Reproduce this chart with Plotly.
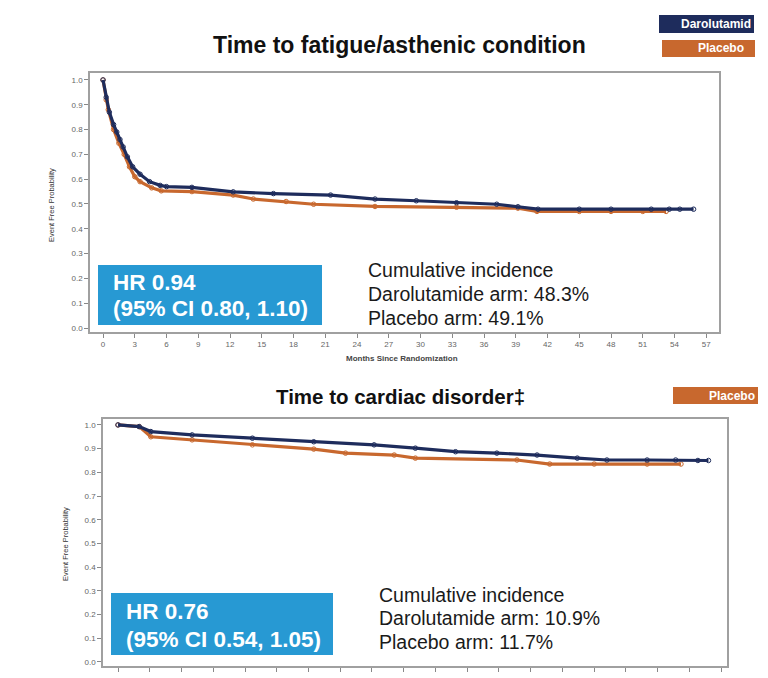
import plotly.graph_objects as go

W, H = 768, 678

# ---------------- data ----------------
fat_months_daro = [0, 0.3, 0.6, 1.0, 1.3, 1.6, 1.9, 2.3, 2.8, 3.5, 4.4, 5.4, 6.0, 8.4, 12.3, 16.1, 21.5,
                   25.7, 29.6, 33.4, 37.2, 39.2, 41.1, 45, 48, 51.8, 53.5, 54.5, 55.8]
fat_surv_daro = [1.0, 0.93, 0.87, 0.82, 0.79, 0.76, 0.73, 0.69, 0.65, 0.62, 0.59, 0.575, 0.57, 0.567, 0.549,
                 0.542, 0.536, 0.52, 0.513, 0.505, 0.499, 0.489, 0.479, 0.479, 0.479, 0.479, 0.479, 0.479, 0.479]
fat_months_plac = [0, 0.3, 0.5, 1.0, 1.5, 2.0, 2.5, 3.0, 3.5, 4.6, 5.5, 8.4, 12.3, 14.2, 17.3, 19.9, 25.7,
                   33.4, 39.2, 41.0, 45, 48, 51, 53.2]
fat_surv_plac = [1.0, 0.92, 0.88, 0.80, 0.745, 0.70, 0.65, 0.61, 0.59, 0.565, 0.553, 0.55, 0.536, 0.52,
                 0.51, 0.499, 0.49, 0.487, 0.483, 0.47, 0.47, 0.47, 0.47, 0.47]

car_months_daro = [0, 2.0, 3.1, 7, 12.7, 18.5, 24.2, 28.1, 31.9, 35.8, 39.6, 43.4, 46.2, 50, 52.7, 54.8, 55.8]
car_surv_daro = [1.0, 0.993, 0.972, 0.958, 0.944, 0.929, 0.916, 0.902, 0.887, 0.881, 0.873, 0.86, 0.852,
                 0.852, 0.852, 0.85, 0.85]
car_months_plac = [0, 2.0, 3.1, 7, 12.7, 18.5, 21.5, 26.1, 28.1, 37.7, 40.8, 45, 50, 53.2]
car_surv_plac = [1.0, 0.993, 0.95, 0.937, 0.916, 0.898, 0.881, 0.873, 0.86, 0.852, 0.835, 0.835, 0.835, 0.835]

x_ticks = list(range(0, 58, 3))
y_ticks = [i / 10 for i in range(11)]

titles = ["Time to fatigue/asthenic condition", "Time to cardiac disorder\u2021"]
hr_lines = [["HR 0.94", "(95% CI 0.80, 1.10)"], ["HR 0.76", "(95% CI 0.54, 1.05)"]]
ci_lines = [["Cumulative incidence", "Darolutamide arm: 48.3%", "Placebo arm: 49.1%"],
            ["Cumulative incidence", "Darolutamide arm: 10.9%", "Placebo arm: 11.7%"]]

NAVY = "#1e2c5c"
ORANGE = "#c8682e"
BOX_BLUE = "#2799d3"


def px(x):
    return x / W


def py(y):
    return 1 - y / H


fig = go.Figure()


def add_curve(xs, ys, color, xa, ya):
    fig.add_trace(go.Scatter(
        x=xs, y=ys, mode="lines+markers", xaxis=xa, yaxis=ya,
        line=dict(color=color, width=3.2),
        marker=dict(symbol="circle-open", size=4.5, color=color, line=dict(width=1)),
        showlegend=False, hoverinfo="skip"))


add_curve(fat_months_plac, fat_surv_plac, ORANGE, "x", "y")
add_curve(fat_months_daro, fat_surv_daro, NAVY, "x", "y")
add_curve(car_months_plac, car_surv_plac, ORANGE, "x2", "y2")
add_curve(car_months_daro, car_surv_daro, NAVY, "x2", "y2")

axis_common = dict(showgrid=False, zeroline=False, showline=True, linecolor="#a0a0a0", linewidth=1.5,
                   mirror=True, ticks="outside", ticklen=4, tickcolor="#888",
                   tickfont=dict(family="Liberation Sans, Arial", size=8, color="#666"))

fig.update_layout(
    width=W, height=H, margin=dict(l=0, r=0, t=0, b=0),
    paper_bgcolor="white", plot_bgcolor="white",
    xaxis=dict(domain=[px(90), px(719)], range=[-1.23, 58.2], tickvals=x_ticks, anchor="y", **axis_common),
    yaxis=dict(domain=[py(332), py(73)], range=[-0.016, 1.028], tickvals=y_ticks, tickformat=".1f",
               anchor="x", **axis_common),
    xaxis2=dict(domain=[px(103), px(727)], range=[-1.42, 57.55], tickvals=x_ticks, showticklabels=False,
                anchor="y2", **axis_common),
    yaxis2=dict(domain=[py(666), py(419)], range=[-0.017, 1.025], tickvals=y_ticks, tickformat=".1f",
                anchor="x2", **axis_common),
)

shapes = []
ann = []
FONT = "Liberation Sans, Arial"


def text(x, y, t, size, color, xanchor="center", angle=0):
    ann.append(dict(x=px(x), y=py(y), text=t, showarrow=False, xref="paper", yref="paper",
                    xanchor=xanchor, yanchor="middle", textangle=angle,
                    font=dict(family=FONT, size=size, color=color)))


# titles
text(399, 45, "<b>%s</b>" % titles[0], 23, "#111")
text(400, 396, "<b>%s</b>" % titles[1], 20.5, "#111")

# HR boxes
for (x0, x1, y0, y1, tx, ty1, ty2), lines in zip(
        [(98, 322, 265, 325, 111, 282, 308), (111, 333, 593, 655, 124, 611, 639)], hr_lines):
    shapes.append(dict(type="rect", xref="paper", yref="paper", x0=px(x0), x1=px(x1), y0=py(y1), y1=py(y0),
                       fillcolor=BOX_BLUE, line=dict(width=0), layer="above"))
    text(tx, ty1, "<b>%s</b>" % lines[0], 22.5, "white", "left")
    text(tx, ty2, "<b>%s</b>" % lines[1], 22.5, "white", "left")

# cumulative incidence text
for (tx, ys), lines in zip([(366, [270, 294, 318]), (377, [595, 618, 642])], ci_lines):
    for yy, t in zip(ys, lines):
        text(tx, yy, t, 19.5, "#1a1a1a", "left")

# y axis titles
for xx, yy in [(51, 205), (65, 544)]:
    text(xx, yy, "Event Free Probability", 7.5, "#333", angle=-90)

# x axis title (partially hidden in reference)
text(402, 358, "<b>Months Since Randomization</b>", 8, "#444")

# legend-like boxes (slide fragments)
for x0, x1, y0, y1, color, t, tr in [(659, 754, 15, 33, NAVY, "Darolutamid", 753),
                                      (662, 755, 40, 57, ORANGE, "Placebo", 746),
                                      (673, 758, 387, 404, ORANGE, "Placebo", 757)]:
    shapes.append(dict(type="rect", xref="paper", yref="paper", x0=px(x0), x1=px(x1), y0=py(y1), y1=py(y0),
                       fillcolor=color, line=dict(width=0)))
    text(tr, (y0 + y1) / 2, "<b>%s</b>" % t, 12, "white", "right")

fig.update_layout(shapes=shapes, annotations=ann)

fig.write_html("out.html")
